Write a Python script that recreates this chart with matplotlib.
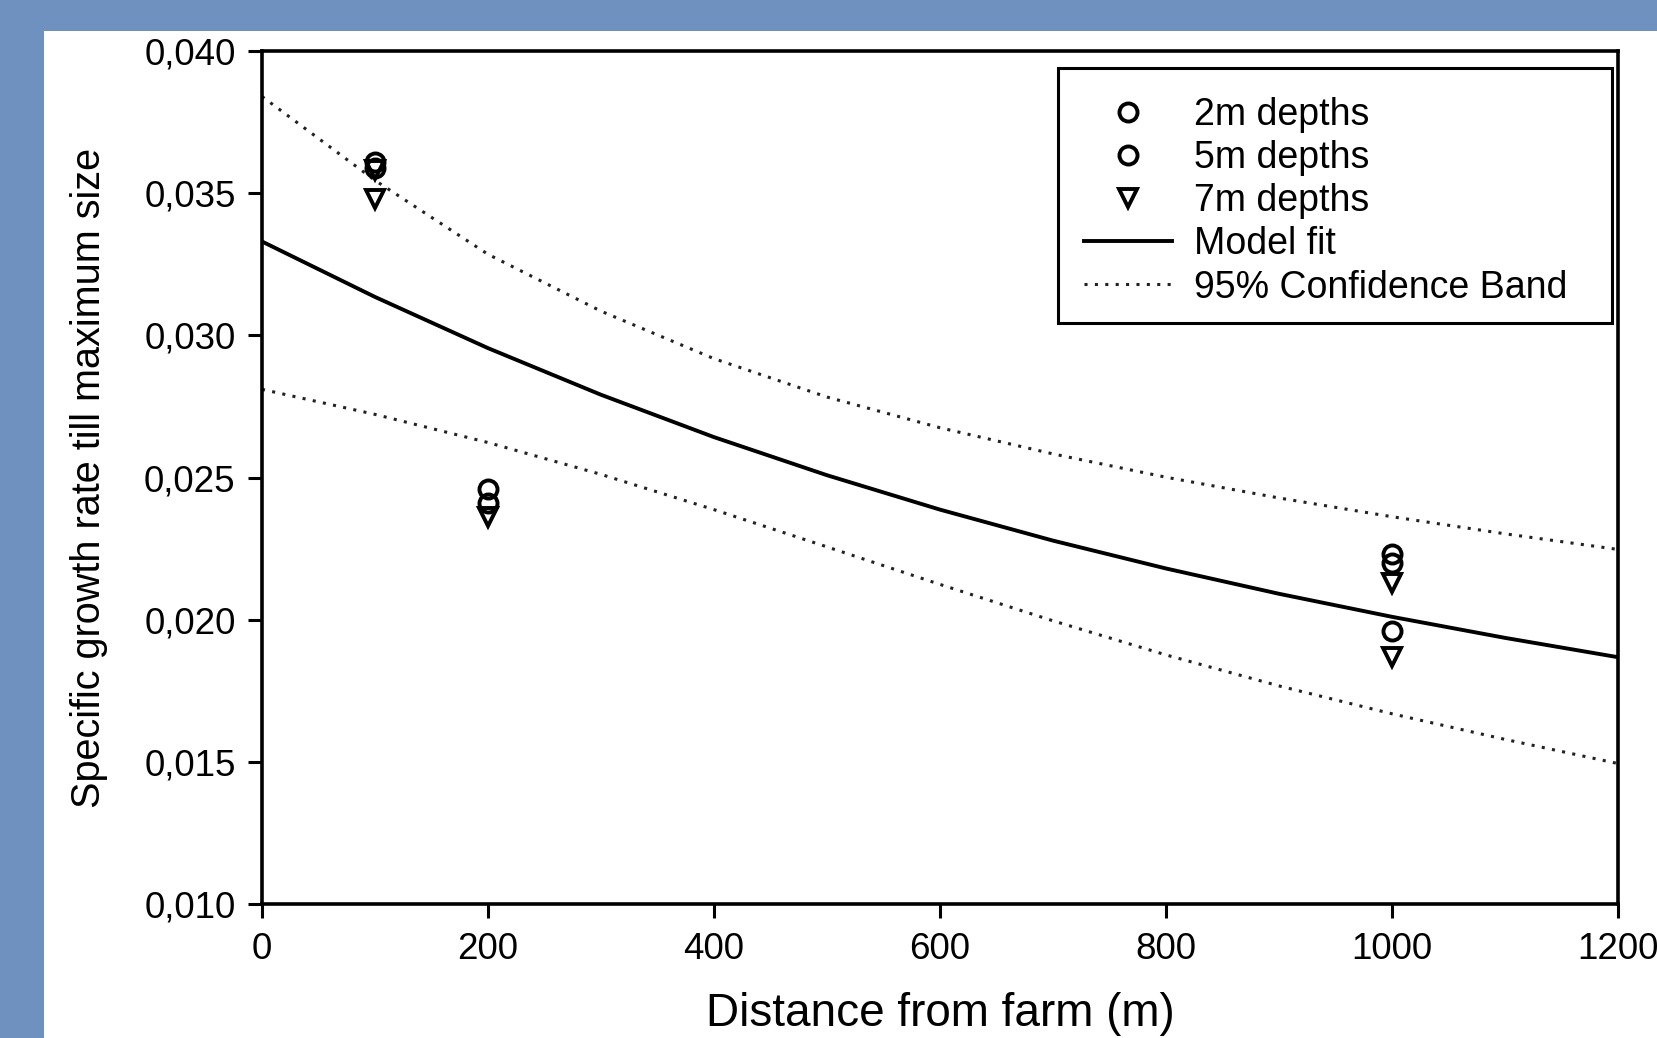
import matplotlib.pyplot as plt
from matplotlib.patches import Rectangle
from matplotlib.ticker import FuncFormatter

plt.rcParams['font.family'] = ['Liberation Sans', 'DejaVu Sans']

# measured points (distance from farm, growth rate)
x_2m = [100, 200, 1000, 1000]
y_2m = [0.0361, 0.0246, 0.0223, 0.0196]
x_5m = [100, 200, 1000]
y_5m = [0.0359, 0.0241, 0.0220]
x_7m = [100, 100, 200, 1000, 1000]
y_7m = [0.0358, 0.0348, 0.0236, 0.0213, 0.0187]

# curves every 100 m
dist = [0, 100, 200, 300, 400, 500, 600, 700, 800, 900, 1000, 1100, 1200]
fit = [0.03330, 0.03135, 0.02955, 0.02791, 0.02642, 0.02508, 0.02387, 0.02278,
       0.02180, 0.02091, 0.02010, 0.01936, 0.01868]
upper = [0.03840, 0.03545, 0.03285, 0.03085, 0.02918, 0.02783, 0.02675, 0.02583,
         0.02501, 0.02428, 0.02362, 0.02302, 0.02247]
lower = [0.02810, 0.02722, 0.02623, 0.02511, 0.02387, 0.02256, 0.02124, 0.01996,
         0.01876, 0.01767, 0.01669, 0.01579, 0.01494]

fig = plt.figure(figsize=(16.58, 10.38), dpi=100, facecolor='#6f91bf')
fig.patches.append(Rectangle((44 / 1658, 0), 1, 1 - 31 / 1038, transform=fig.transFigure,
                             facecolor='white', edgecolor='none', zorder=-5))
ax = fig.add_axes([262 / 1658, 1 - 904 / 1038, 1356 / 1658, 853 / 1038])
ax.patch.set_alpha(0)

dot = (0, (1, 2.4))
ax.plot(dist, upper, color='#222222', lw=2.2, ls=dot, label='95% Confidence Band')
ax.plot(dist, lower, color='#222222', lw=2.2, ls=dot)
ax.plot(dist, fit, color='black', lw=2.8, label='Model fit')

mk = dict(ls='none', mfc='none', mec='black', mew=2.8, ms=13)
ax.plot(x_2m, y_2m, marker='o', label='2m depths', **mk)
ax.plot(x_5m, y_5m, marker='o', label='5m depths', **mk)
ax.plot(x_7m, y_7m, marker='v', label='7m depths', **mk)

ax.set_xlim(0, 1200)
ax.set_ylim(0.010, 0.040)
ax.set_xticks([0, 200, 400, 600, 800, 1000, 1200])
ax.set_yticks([0.010, 0.015, 0.020, 0.025, 0.030, 0.035, 0.040])
ax.yaxis.set_major_formatter(FuncFormatter(lambda v, p: f'{v:.3f}'.replace('.', ',')))
ax.tick_params(direction='out', length=10, width=2.2, labelsize=26.5)
ax.tick_params(axis='x', pad=10)
ax.tick_params(axis='y', pad=9)
for s in ax.spines.values():
    s.set_linewidth(2.6)

ax.set_xlabel('Distance from farm (m)', fontsize=33, labelpad=18)
ax.set_ylabel('Specific growth rate till maximum size', fontsize=28.5, labelpad=26)

handles, labels = ax.get_legend_handles_labels()
order = ['2m depths', '5m depths', '7m depths', 'Model fit', '95% Confidence Band']
hl = dict(zip(labels, handles))
ax.legend([hl[k] for k in order], order, loc='upper left', bbox_to_anchor=(0.606, 0.946),
          frameon=False, fontsize=27, handlelength=2.35, handletextpad=0.6,
          labelspacing=0.19, borderpad=0, borderaxespad=0)
ax.add_patch(Rectangle(((1058 - 262) / 1356, (904 - 323) / 853), 554 / 1356, 255 / 853,
                       transform=ax.transAxes, facecolor='none', edgecolor='black',
                       lw=2.2, zorder=5))

fig.savefig('out.png', dpi=100, facecolor=fig.get_facecolor())
